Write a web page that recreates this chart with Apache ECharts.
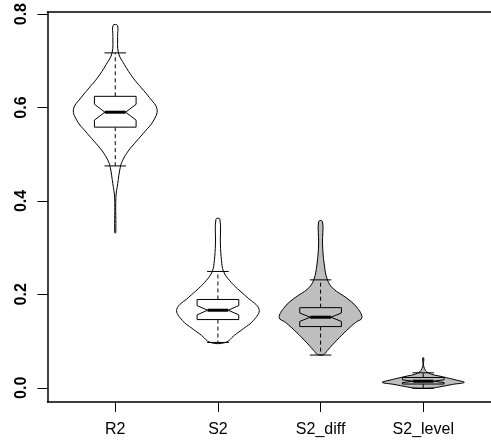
<!DOCTYPE html>
<html>
<head>
<meta charset="utf-8">
<script src="https://cdn.jsdelivr.net/npm/echarts@6/dist/echarts.min.js"></script>
<style>
  html, body { margin: 0; padding: 0; background: #fff; }
  #chart { width: 491px; height: 445px; }
</style>
</head>
<body>
<div id="chart"></div>
<script>
var categories = ['R2', 'S2', 'S2_diff', 'S2_level'];

// violin outline: [value, half width in x-axis units], top to bottom
var violinR2 = [
  [0.776, 0.021], [0.752, 0.023], [0.717, 0.031], [0.692, 0.089], [0.663, 0.175],
  [0.642, 0.255], [0.621, 0.334], [0.596, 0.408], [0.571, 0.370], [0.550, 0.294],
  [0.528, 0.207], [0.507, 0.127], [0.486, 0.070], [0.471, 0.048], [0.437, 0.024],
  [0.407, 0.006], [0.332, 0.005]
];
var violinS2 = [
  [0.361, 0.019], [0.308, 0.024], [0.272, 0.035], [0.249, 0.055], [0.230, 0.112],
  [0.212, 0.191], [0.194, 0.283], [0.168, 0.401], [0.144, 0.346], [0.127, 0.251],
  [0.112, 0.159], [0.097, 0.075]
];
var violinS2diff = [
  [0.356, 0.019], [0.308, 0.019], [0.265, 0.035], [0.231, 0.067], [0.212, 0.124],
  [0.193, 0.248], [0.173, 0.350], [0.150, 0.403], [0.140, 0.342], [0.123, 0.255],
  [0.102, 0.159], [0.080, 0.067], [0.071, 0.029]
];
var violinS2level = [
  [0.064, 0.005], [0.045, 0.006], [0.032, 0.048], [0.0235, 0.190], [0.0164, 0.324],
  [0.0115, 0.400], [0.0072, 0.286], [0.002, 0.162], [-0.001, 0.076]
];

// [lower whisker, Q1, notch low, median, notch high, Q3, upper whisker]
var boxR2 = [0.475, 0.558, 0.573, 0.590, 0.607, 0.624, 0.717];
var boxS2 = [0.097, 0.146, 0.156, 0.166, 0.176, 0.189, 0.249];
var boxS2diff = [0.070, 0.131, 0.142, 0.151, 0.160, 0.1715, 0.231];
var boxS2level = [-0.001, 0.008, 0.011, 0.014, 0.017, 0.022, 0.032];

var yTicks = [0, 0.2, 0.4, 0.6, 0.8];
var xTicks = [1, 2, 3, 4];

var violins = [violinR2, violinS2, violinS2diff, violinS2level];
var boxes = [boxR2, boxS2, boxS2diff, boxS2level];
var fills = ['#ffffff', '#ffffff', '#bebebe', '#bebebe'];

var BOX_W = 0.203;   // box half width
var NOTCH_W = 0.101; // notch / median half width
var CAP_W = 0.105;   // whisker cap half width

function renderViolin(params, api) {
  var i = params.dataIndex;
  var x = i + 1;
  var prof = violins[i];
  var b = boxes[i];
  var fill = fills[i];
  var pts = [];
  for (var k = 0; k < prof.length; k++) {
    pts.push(api.coord([x + prof[k][1], prof[k][0]]));
  }
  for (var k = prof.length - 1; k >= 0; k--) {
    pts.push(api.coord([x - prof[k][1], prof[k][0]]));
  }

  function line(x1, y1, x2, y2, style) {
    var p1 = api.coord([x1, y1]);
    var p2 = api.coord([x2, y2]);
    return {
      type: 'line',
      shape: { x1: p1[0], y1: p1[1], x2: p2[0], y2: p2[1] },
      style: style
    };
  }

  var boxPts = [
    [x - BOX_W, b[1]], [x - BOX_W, b[2]], [x - NOTCH_W, b[3]], [x - BOX_W, b[4]],
    [x - BOX_W, b[5]], [x + BOX_W, b[5]], [x + BOX_W, b[4]], [x + NOTCH_W, b[3]],
    [x + BOX_W, b[2]], [x + BOX_W, b[1]]
  ].map(function (p) { return api.coord(p); });

  var dash = { stroke: '#000', lineWidth: 1, lineDash: [4, 3] };
  var solid = { stroke: '#000', lineWidth: 1 };

  return {
    type: 'group',
    children: [
      { type: 'polygon', shape: { points: pts, smooth: 0.4 },
        style: { fill: fill, stroke: '#000', lineWidth: 1 } },
      line(x, b[5], x, b[6], dash),
      line(x, b[1], x, b[0], dash),
      line(x - CAP_W, b[6], x + CAP_W, b[6], solid),
      line(x - CAP_W, b[0], x + CAP_W, b[0], solid),
      { type: 'polygon', shape: { points: boxPts },
        style: { fill: fill, stroke: '#000', lineWidth: 1 } },
      line(x - NOTCH_W, b[3], x + NOTCH_W, b[3], { stroke: '#000', lineWidth: 3 })
    ]
  };
}

var axisStroke = { color: '#000', width: 1.5 };

var chart = echarts.init(document.getElementById('chart'));
chart.setOption({
  animation: false,
  grid: {
    left: 47.5,
    right: -9.3,
    top: 10.7,
    bottom: 43,
    show: false
  },
  xAxis: [{
    type: 'value',
    min: 0.34,
    max: 4.66,
    splitLine: { show: false },
    axisLine: { show: true, onZero: false, lineStyle: axisStroke },
    axisTick: {
      show: true,
      customValues: xTicks,
      length: 10,
      lineStyle: { color: '#000', width: 1 }
    },
    axisLabel: {
      customValues: xTicks,
      margin: 20,
      color: '#000',
      fontSize: 16,
      fontFamily: 'Liberation Sans',
      formatter: function (v) { return categories[Math.round(v) - 1]; }
    }
  }, {
    // top border of the plot box
    type: 'value',
    position: 'top',
    min: 0.34,
    max: 4.66,
    splitLine: { show: false },
    axisLine: { show: true, onZero: false, lineStyle: axisStroke },
    axisTick: { show: false },
    axisLabel: { show: false }
  }],
  yAxis: {
    type: 'value',
    min: -0.0305,
    max: 0.8043,
    splitLine: { show: false },
    axisLine: { show: true, onZero: false, lineStyle: axisStroke },
    axisTick: {
      show: true,
      customValues: yTicks,
      length: 10,
      lineStyle: { color: '#000', width: 1 }
    },
    axisLabel: {
      customValues: yTicks,
      rotate: 90,
      margin: 18,
      color: '#000',
      fontSize: 16,
      fontWeight: 'bold',
      fontFamily: 'Liberation Sans',
      formatter: function (v) { return v.toFixed(1); }
    }
  },
  series: [{
    type: 'custom',
    renderItem: renderViolin,
    clip: false,
    data: categories.map(function (c, i) { return [i + 1]; })
  }]
});
</script>
</body>
</html>
